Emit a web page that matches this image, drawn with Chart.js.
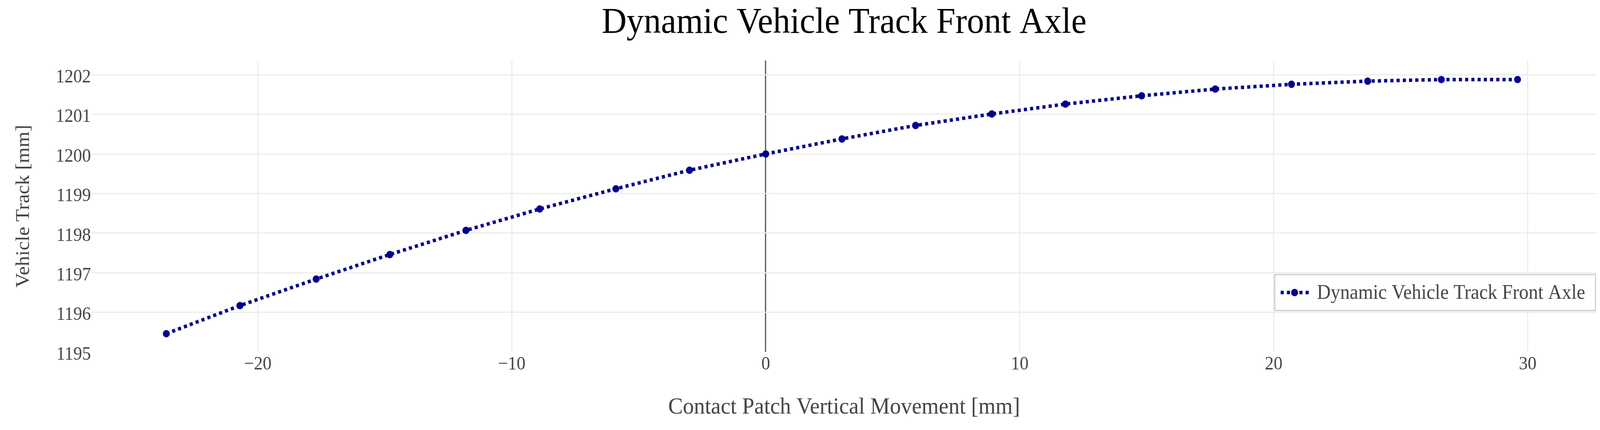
<!DOCTYPE html>
<html>
<head>
<meta charset="utf-8">
<title>Dynamic Vehicle Track Front Axle</title>
<script src="https://cdn.jsdelivr.net/npm/chart.js@4.4.1/dist/chart.umd.min.js"></script>
<style>
	html, body { margin: 0; padding: 0; background: #fff; overflow: hidden; }
	#wrap { position: absolute; left: 0; top: 0; width: 4365px; height: 1101px; transform-origin: 0 0; }
	#myChart { display: block; width: 4365px; height: 1101px; }
</style>
</head>
<body>
<div id="wrap"><canvas id="myChart" width="4365" height="1101"></canvas></div>
<script>
// Datos
const movimiento = [-23.6, -20.7, -17.7, -14.8, -11.8, -8.9, -5.9, -3.0, 0, 3.0, 5.9, 8.9, 11.8, 14.8, 17.7, 20.7, 23.7, 26.6, 29.6];
const trocha = [1195.46, 1196.17, 1196.84, 1197.46, 1198.07, 1198.61, 1199.12, 1199.59, 1200.00, 1200.38, 1200.72, 1201.01, 1201.26, 1201.47, 1201.64, 1201.76, 1201.84, 1201.88, 1201.88];
const ticks_x = [-20, -10, 0, 10, 20, 30];
const ticks_y = [1195, 1196, 1197, 1198, 1199, 1200, 1201, 1202];

const serif = "'Liberation Serif', 'Times New Roman', serif";
const gris = "#444444";
const azul = "#00008b";

// el lienzo se dibuja a 4365x1101 y se ajusta a la ventana real
const wrap = document.getElementById("wrap");
const sx = window.innerWidth / 4365;
const sy = window.innerHeight / 1101;
wrap.style.transform = "scale(" + sx + "," + sy + ")";

const puntos = movimiento.map((x, i) => ({ x: x, y: trocha[i] }));

// Leyenda dentro del area del grafico, con linea punteada y marcador
const legendBox = {
	id: "legendBox",
	afterDraw(chart) {
		const ds = chart.data.datasets[0];
		const area = chart.chartArea;
		const c = chart.ctx;
		c.save();
		c.font = "52px " + serif;
		const tw = c.measureText(ds.label).width;
		const h = 92;
		const w = 115 + tw + 28;
		const right = area.right - 3;
		const bottom = area.bottom - 106;
		const left = right - w;
		const top = bottom - h;
		c.fillStyle = "#ffffff";
		c.fillRect(left, top, w, h);
		c.strokeStyle = "#cccccc";
		c.lineWidth = 3;
		c.strokeRect(left, top, w, h);
		const my = top + h / 2;
		c.strokeStyle = ds.borderColor;
		c.lineWidth = ds.borderWidth;
		c.setLineDash(ds.borderDash);
		c.beginPath();
		c.moveTo(left + 16, my);
		c.lineTo(left + 101, my);
		c.stroke();
		c.setLineDash([]);
		c.fillStyle = ds.pointBackgroundColor;
		c.beginPath();
		c.arc(left + 54, my, ds.pointRadius, 0, Math.PI * 2);
		c.fill();
		c.fillStyle = gris;
		c.textBaseline = "middle";
		c.textAlign = "left";
		c.fillText(ds.label, left + 115, my + 2);
		c.restore();
	}
};

const ctx = document.getElementById("myChart").getContext("2d");

let myChart = new Chart(ctx, {
	type: "line",
	data: {
		datasets: [
			{
				label: "Dynamic Vehicle Track Front Axle",
				data: puntos,
				borderColor: azul,
				backgroundColor: azul,
				pointBackgroundColor: azul,
				pointBorderColor: azul,
				borderWidth: 9,
				borderDash: [8.5, 8.5],
				pointRadius: 9.5,
				pointBorderWidth: 0,
				pointHoverRadius: 9.5,
				tension: 0,
				fill: false,
			}
		],
	},
	options: {
		responsive: false,
		animation: false,
		layout: {
			padding: { left: 0, right: 5, top: 0, bottom: 0 },
		},
		plugins: {
			legend: { display: false },
			tooltip: { enabled: false },
			title: {
				display: true,
				text: "Dynamic Vehicle Track Front Axle",
				color: "#000000",
				fullSize: false,
				font: { family: serif, size: 94, weight: "normal", lineHeight: 1.2 },
				padding: { top: 3, bottom: 39.2 },
			},
		},
		scales: {
			x: {
				type: "linear",
				min: -26.54,
				max: 32.71,
				afterBuildTicks: (scale) => {
					scale.ticks = ticks_x.map((v) => ({ value: v }));
				},
				afterFit: (scale) => {
					scale.height = 200;
				},
				border: { display: false },
				grid: {
					drawTicks: false,
					lineWidth: 3,
					color: (c) => (c.tick && c.tick.value === 0 ? gris : "#ececec"),
				},
				ticks: {
					padding: 4,
					color: gris,
					font: { family: serif, size: 48 },
					callback: (v) => String(v).replace("-", "\u2212"),
				},
				title: {
					display: true,
					text: "Contact Patch Vertical Movement [mm]",
					color: gris,
					font: { family: serif, size: 60, lineHeight: 1.2 },
					padding: { top: 0, bottom: 22 },
				},
			},
			y: {
				min: 1195,
				max: 1202.36,
				afterBuildTicks: (scale) => {
					scale.ticks = ticks_y.map((v) => ({ value: v }));
				},
				afterFit: (scale) => {
					scale.width = 250;
				},
				border: { display: false },
				grid: {
					drawTicks: false,
					lineWidth: 3,
					color: (c) => (c.tick && c.tick.value === 1195 ? "rgba(0,0,0,0)" : "#ececec"),
				},
				ticks: {
					padding: 2,
					labelOffset: 7,
					color: gris,
					font: { family: serif, size: 48 },
					callback: (v) => String(v),
				},
				title: {
					display: true,
					text: "Vehicle Track [mm]",
					color: gris,
					font: { family: serif, size: 52, lineHeight: 1.2 },
					padding: { top: 34, bottom: 0 },
				},
			},
		},
	},
	plugins: [legendBox],
});
</script>
</body>
</html>
